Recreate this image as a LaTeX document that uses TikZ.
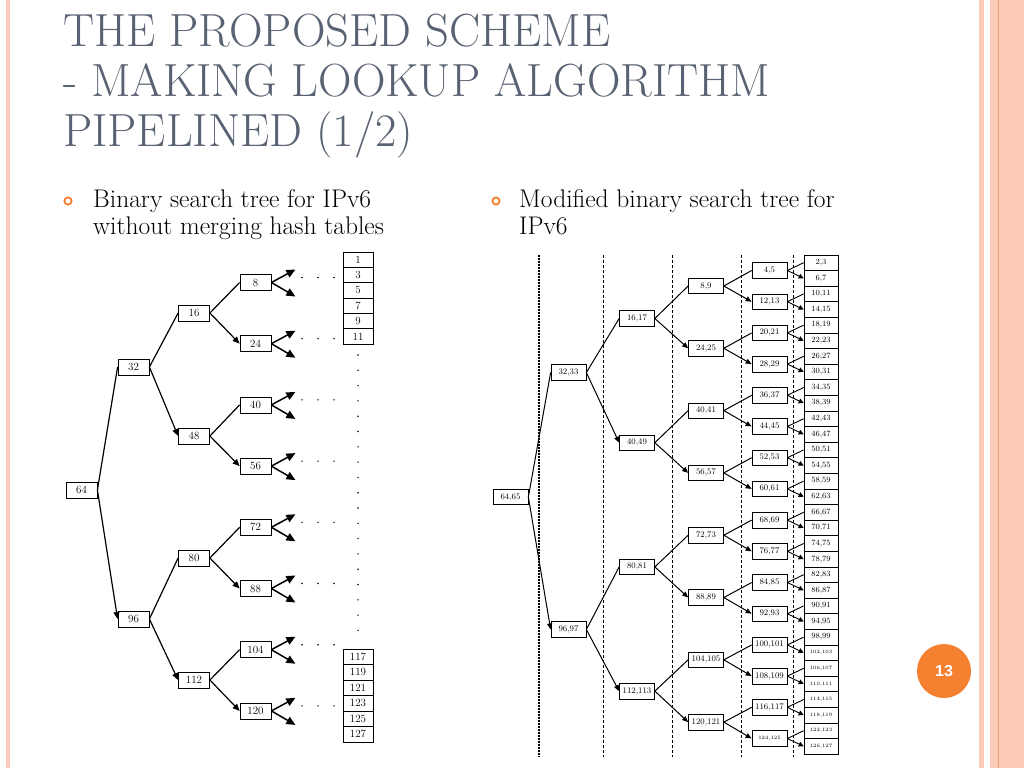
\documentclass[tikz,border=0pt]{standalone}
\usepackage{fontspec}
\usepackage{tikz}
\usetikzlibrary{arrows.meta}
\newfontfamily\numfont{Liberation Sans}
\definecolor{titlegray}{RGB}{89,98,114}
\definecolor{accent}{RGB}{245,128,48}
\definecolor{rimpink}{RGB}{251,203,184}
\definecolor{rimline}{RGB}{230,158,128}

\begin{document}
\begin{tikzpicture}[x=1pt,y=-1pt,
  lbox/.style={draw,line width=0.8pt,minimum width=31pt,minimum height=16pt,inner sep=0pt,font=\fontsize{11}{11}\selectfont},
  rbox/.style={draw,line width=0.7pt,minimum width=35pt,minimum height=15.5pt,inner sep=0pt,font=\fontsize{8.5}{8.5}\selectfont},
  cell/.style={draw,line width=0.8pt,minimum width=30pt,minimum height=15.4pt,inner sep=0pt,font=\fontsize{11}{11}\selectfont},
  rcell/.style={draw,line width=0.7pt,minimum width=34pt,minimum height=15.6pt,inner sep=0pt,font=\fontsize{8}{8}\selectfont},
  edge/.style={line width=1.2pt,-{Triangle[length=7pt,width=6pt]}},
  fork/.style={line width=1.5pt,-{Triangle[length=9pt,width=8pt]}},
  redge/.style={line width=1pt,-{Triangle[length=6pt,width=5pt]}},
  rfork/.style={line width=0.9pt,-{Triangle[length=5pt,width=5pt]}},
  stage/.style={line width=0.9pt,dash pattern=on 3pt off 2pt},
  titleline/.style={anchor=base west,inner sep=0pt,text=titlegray,font=\fontsize{46.5}{46.5}\selectfont},
  bullettext/.style={anchor=base west,inner sep=0pt,font=\fontsize{25.5}{25.5}\selectfont}]
 \useasboundingbox (0,0) rectangle (1024,768);
 % slide frame
 \fill[white] (0,0) rectangle (1024,768);
 \fill[rimpink] (6,0) rectangle (10,768);
 \fill[rimpink] (979,0) rectangle (984,768);
 \fill[rimpink] (990,0) rectangle (1024,768);
 \draw[rimline,line width=0.8pt] (998,0) -- (998,768);
 % title and bullets
 \node[titleline] (title1) at (63,46) {THE PROPOSED SCHEME};
 \node[titleline] (title2) at (63,96) {- MAKING LOOKUP ALGORITHM};
 \node[titleline] (title3) at (63,146) {PIPELINED (1/2)};
 \draw[accent,line width=1.8pt] (68,201) circle (3.6);
 \node[bullettext] (left1) at (93,207) {Binary search tree for IPv6};
 \node[bullettext] (left2) at (93,234) {without merging hash tables};
 \draw[accent,line width=1.8pt] (496,201) circle (3.6);
 \node[bullettext] (right1) at (519,207) {Modified binary search tree for};
 \node[bullettext] (right2) at (519,234) {IPv6};
 \fill[accent] (944,671) circle (27);
 \node[text=white,font=\numfont\bfseries\fontsize{16}{16}\selectfont] (pagenum) at (944,671) {13};

 % left tree
 \node[lbox] (l64) at (81.5,490) {64};
 \node[lbox] (l32) at (133.5,367) {32};
 \node[lbox] (l96) at (133.5,619) {96};
 \node[lbox] (l16) at (194,313) {16};
 \node[lbox] (l48) at (194,436) {48};
 \node[lbox] (l80) at (194,558) {80};
 \node[lbox] (l112) at (194,680) {112};
 \foreach \v [count=\i from 0] in {8,24,...,120} {
   \node[lbox] (l\v) at (255.5,{282.5+61.2*\i}) {\v};
   \path (l\v.east) ++(24,-13) coordinate (lu\v) (l\v.east) ++(24,14) coordinate (ld\v);
   \draw[fork] (l\v.east) -- (lu\v);
   \draw[fork] (l\v.east) -- (ld\v);
   \foreach \x in {302,318,334} \fill (\x,{277.5+61.2*\i}) circle (0.8);
 }
 \foreach \a/\b/\c in {64/32/96,32/16/48,96/80/112,16/8/24,48/40/56,80/72/88,112/104/120}
   \draw[edge] (l\a.east) -- (l\b.west) (l\a.east) -- (l\c.west);
 \foreach \k in {0,...,18} \fill (358,{355+15.3*\k}) circle (0.8);
 \foreach \v [count=\j from 0] in {1,3,5,7,9,11}
   \node[cell] (lt\v) at (358,{259.7+15.35*\j}) {\v};
 \foreach \v [count=\j from 0] in {117,119,121,123,125,127}
   \node[cell] (lt\v) at (358,{656.7+15.5*\j}) {\v};

 % right tree (pipelined)
 \draw[stage,line width=1.7pt,dash pattern=on 2pt off 1pt] (539,255) -- (539,757);
 \foreach \x in {603,672,741,793} \draw[stage] (\x,255) -- (\x,757);
 \node[rbox] (r64) at (510.5,497) {64,65};
 \node[rbox] (r32) at (568.5,372.5) {32,33};
 \node[rbox] (r96) at (568.5,629.5) {96,97};
 \foreach \v/\t [count=\i from 0] in {16/{16,17},48/{40,49},80/{80,81},112/{112,113}}
   \node[rbox] (r\v) at (637,{318.5+124.2*\i}) {\t};
 \foreach \v [count=\i from 0, evaluate=\v as \w using {int(\v+1)}] in {8,24,...,120}
   \node[rbox] (r\v) at (706,{286+62.3*\i}) {\v,\w};
 \foreach \v [count=\i from 0, evaluate=\v as \w using {int(\v+1)}] in {4,12,...,116}
   \node[rbox] (r\v) at (769.5,{270.5+31.2*\i}) {\v,\w};
 \node[rbox,font=\fontsize{5}{5}\selectfont] (r124) at (769.5,738.5) {124,125};
 \foreach \v [count=\j from 0, evaluate=\v as \w using {int(\v+1)}] in {2,6,...,98}
   \node[rcell] (rt\v) at (821,{262.7+15.6*\j}) {\v,\w};
 \foreach \v [count=\j from 25, evaluate=\v as \w using {int(\v+1)}] in {102,106,...,126}
   \node[rcell,font=\fontsize{5}{5}\selectfont] (rt\v) at (821,{262.7+15.6*\j}) {\v,\w};
 \foreach \a/\b/\c in {64/32/96,32/16/48,96/80/112,16/8/24,48/40/56,80/72/88,112/104/120}
   \draw[redge] (r\a.east) -- (r\b.west) (r\a.east) -- (r\c.west);
 \foreach \v [evaluate=\v as \b using {int(\v-4)}, evaluate=\v as \c using {int(\v+4)}] in {8,24,...,120}
   \draw[redge] (r\v.east) -- (r\b.west) (r\v.east) -- (r\c.west);
 \foreach \v [evaluate=\v as \b using {int(\v-2)}, evaluate=\v as \c using {int(\v+2)}] in {4,12,...,124}
   \draw[rfork] (r\v.east) -- (rt\b.west) (r\v.east) -- (rt\c.west);
\end{tikzpicture}
\end{document}
